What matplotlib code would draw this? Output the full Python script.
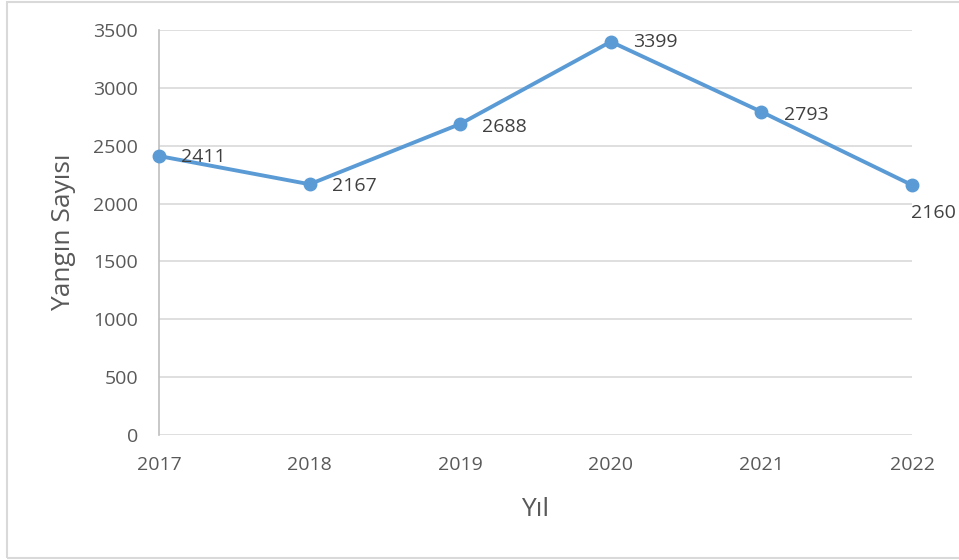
import matplotlib.pyplot as plt

years = ['2017', '2018', '2019', '2020', '2021', '2022']
fires = [2411, 2167, 2688, 3399, 2793, 2160]
# label offsets in points (dx, dy) relative to each point
label_offsets = [(16, -1), (16, -1), (16, -2), (16, 0), (16, -2), (-1, -20)]

plt.rcParams['font.family'] = ['Open Sans', 'DejaVu Sans']

fig = plt.figure(figsize=(9.59, 5.6), dpi=100)
ax = fig.add_axes([159/959, 1-435/560, (912-159)/959, (435-30)/560])

x = list(range(len(years)))
ax.plot(x, fires, color='#5B9BD5', lw=2.8, marker='o', ms=9, zorder=3, clip_on=False)

for i, v in enumerate(fires):
    dx, dy = label_offsets[i]
    ax.annotate(str(v), (x[i], v), xytext=(dx, dy), textcoords='offset points',
                ha='left', va='center', fontsize=14, color='#404040',
                annotation_clip=False)

ax.set_xlim(0, len(years)-1)
ax.set_ylim(0, 3500)
ax.set_yticks(range(0, 3501, 500))
ax.set_xticks(x)
ax.set_xticklabels(years)
ax.grid(axis='y', color='#D9D9D9', lw=1.2)
ax.set_axisbelow(True)
for s in ['top', 'right', 'bottom']:
    ax.spines[s].set_visible(False)
ax.spines['left'].set_color('#BFBFBF')
ax.spines['left'].set_linewidth(1.2)
ax.tick_params(length=0, labelsize=14, labelcolor='#595959')
ax.tick_params(axis='x', pad=15)
ax.tick_params(axis='y', pad=15)

ax.set_xlabel('Yıl', fontsize=19, color='#595959', labelpad=17)
ax.set_ylabel('Yangın Sayısı', fontsize=19, color='#595959', labelpad=12)

# outer chart border
fig.patches.append(plt.Rectangle((7/959, 2/560), 1.0, 1-4/560, transform=fig.transFigure,
                                 fill=False, ec='#D9D9D9', lw=1.5))

fig.savefig('out.png', dpi=100)
